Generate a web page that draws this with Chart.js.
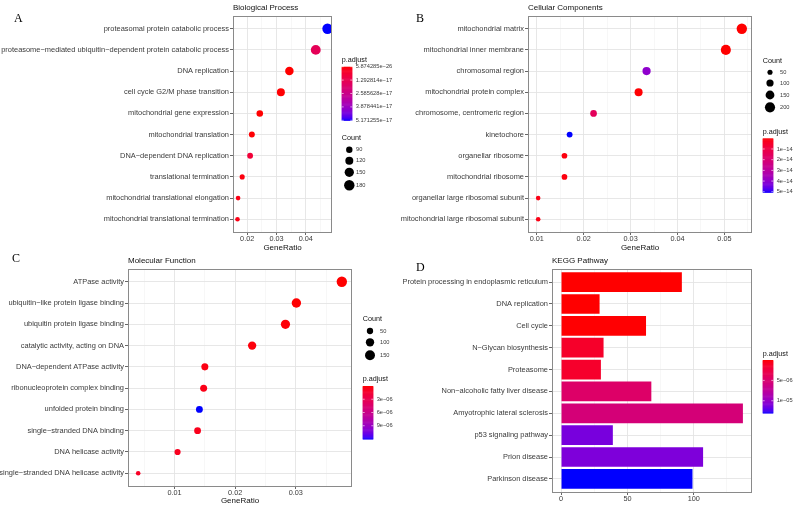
<!DOCTYPE html>
<html>
<head>
<meta charset="utf-8">
<script src="https://cdn.jsdelivr.net/npm/chart.js@4.4.1/dist/chart.umd.min.js"></script>
<style>
  body { margin: 0; background: #fff; width: 797px; height: 506px; position: relative; overflow: hidden; }
  canvas { position: absolute; }
</style>
</head>
<body>
<canvas id="cA" width="400" height="253" style="left:0;top:0"></canvas>
<canvas id="cB" width="397" height="253" style="left:400px;top:0"></canvas>
<canvas id="cC" width="400" height="253" style="left:0;top:253px"></canvas>
<canvas id="cD" width="397" height="253" style="left:400px;top:253px"></canvas>
<script>
// A - Biological Process
const bpTerms = ['proteasomal protein catabolic process', 'proteasome−mediated ubiquitin−dependent protein catabolic process',
  'DNA replication', 'cell cycle G2/M phase transition', 'mitochondrial gene expression', 'mitochondrial translation',
  'DNA−dependent DNA replication', 'translational termination', 'mitochondrial translational elongation',
  'mitochondrial translational termination'];
const bpRatio = [0.0474, 0.0434, 0.0344, 0.0315, 0.0243, 0.0216, 0.0210, 0.0183, 0.0169, 0.0167];
const bpCount = [180, 165, 131, 120, 92, 82, 80, 70, 64, 63];
const bpPadj = [5.171255e-17, 1.45e-17, 5.874285e-26, 2.1e-19, 1.0e-21, 3.5e-19, 7.8e-18, 1.2e-18, 2.0e-18, 2.0e-18];
const bpCountBreaks = [90, 120, 150, 180];
const bpPadjBreaks = [5.874285e-26, 1.292814e-17, 2.585628e-17, 3.878441e-17, 5.171255e-17];
const bpPadjLabels = ['5.874285e−26', '1.292814e−17', '2.585628e−17', '3.878441e−17', '5.171255e−17'];

// B - Cellular Components
const ccTerms = ['mitochondrial matrix', 'mitochondrial inner membrane', 'chromosomal region', 'mitochondrial protein complex',
  'chromosome, centromeric region', 'kinetochore', 'organellar ribosome', 'mitochondrial ribosome',
  'organellar large ribosomal subunit', 'mitochondrial large ribosomal subunit'];
const ccRatio = [0.0537, 0.0503, 0.0334, 0.0317, 0.0221, 0.0170, 0.0159, 0.0159, 0.0103, 0.0103];
const ccCount = [209, 196, 130, 124, 86, 66, 62, 62, 40, 40];
const ccPadj = [1.2e-19, 3.0e-18, 4.0e-14, 2.4e-16, 1.5e-14, 5.05e-14, 1.1e-15, 1.1e-15, 1.9e-15, 1.9e-15];
const ccCountBreaks = [50, 100, 150, 200];
const ccPadjBreaks = [1e-14, 2e-14, 3e-14, 4e-14, 5e-14];
const ccPadjLabels = ['1e−14', '2e−14', '3e−14', '4e−14', '5e−14'];

// C - Molecular Function
const mfTerms = ['ATPase activity', 'ubiquitin−like protein ligase binding', 'ubiquitin protein ligase binding',
  'catalytic activity, acting on DNA', 'DNA−dependent ATPase activity', 'ribonucleoprotein complex binding',
  'unfolded protein binding', 'single−stranded DNA binding', 'DNA helicase activity', 'single−stranded DNA helicase activity'];
const mfRatio = [0.0376, 0.0301, 0.0283, 0.0228, 0.0150, 0.0148, 0.0141, 0.0138, 0.0105, 0.0040];
const mfCount = [165, 132, 125, 100, 66, 65, 62, 61, 46, 18];
const mfPadj = [1.1e-9, 4.2e-8, 1.5e-7, 2.3e-7, 3.9e-7, 5.1e-7, 1.2e-5, 6.5e-7, 8.2e-7, 1.0e-6];
const mfCountBreaks = [50, 100, 150];
const mfPadjBreaks = [3e-6, 6e-6, 9e-6];
const mfPadjLabels = ['3e−06', '6e−06', '9e−06'];

// D - KEGG Pathway
const keggTerms = ['Protein processing in endoplasmic reticulum', 'DNA replication', 'Cell cycle', 'N−Glycan biosynthesis',
  'Proteasome', 'Non−alcoholic fatty liver disease', 'Amyotrophic lateral sclerosis', 'p53 signaling pathway',
  'Prion disease', 'Parkinson disease'];
const keggCount = [91, 29, 64, 32, 30, 68, 137, 39, 107, 99];
const keggPadj = [2.1e-10, 6.0e-9, 3.5e-8, 1.3e-6, 1.4e-6, 4.6e-6, 5.5e-6, 1.12e-5, 1.1e-5, 1.3e-5];
const keggPadjBreaks = [5e-6, 1e-5];
const keggPadjLabels = ['5e−06', '1e−05'];

const SANS = 'Liberation Sans, Arial, sans-serif';
const TXT = '#3a3a3a';

// red -> blue gradient in Lab space like ggplot
function lin(c) { c /= 255; return c <= 0.04045 ? c / 12.92 : Math.pow((c + 0.055) / 1.055, 2.4); }
function toLab(rgb) {
  const r = lin(rgb[0]), g = lin(rgb[1]), b = lin(rgb[2]);
  const f = t => t > 0.008856 ? Math.cbrt(t) : 7.787 * t + 16 / 116;
  const fx = f((0.4124564 * r + 0.3575761 * g + 0.1804375 * b) / 0.95047);
  const fy = f(0.2126729 * r + 0.7151522 * g + 0.0721750 * b);
  const fz = f((0.0193339 * r + 0.1191920 * g + 0.9503041 * b) / 1.08883);
  return [116 * fy - 16, 500 * (fx - fy), 200 * (fy - fz)];
}
function fromLab(L, a, b) {
  const fy = (L + 16) / 116, fx = fy + a / 500, fz = fy - b / 200;
  const inv = t => t * t * t > 0.008856 ? t * t * t : (t - 16 / 116) / 7.787;
  const X = inv(fx) * 0.95047, Y = inv(fy), Z = inv(fz) * 1.08883;
  const rl = 3.2404542 * X - 1.5371385 * Y - 0.4985314 * Z;
  const gl = -0.9692660 * X + 1.8760108 * Y + 0.0415560 * Z;
  const bl = 0.0556434 * X - 0.2040259 * Y + 1.0572252 * Z;
  const g = c => { c = Math.max(0, Math.min(1, c)); c = c <= 0.0031308 ? 12.92 * c : 1.055 * Math.pow(c, 1 / 2.4) - 0.055; return Math.round(c * 255); };
  return 'rgb(' + g(rl) + ',' + g(gl) + ',' + g(bl) + ')';
}
const LOW = toLab([255, 0, 0]), HIGH = toLab([0, 0, 255]);
function mix(t) {
  t = Math.max(0, Math.min(1, t));
  return fromLab(LOW[0] + (HIGH[0] - LOW[0]) * t, LOW[1] + (HIGH[1] - LOW[1]) * t, LOW[2] + (HIGH[2] - LOW[2]) * t);
}

function sizeScale(counts) {
  const lo = Math.min(...counts), hi = Math.max(...counts);
  return c => Math.sqrt(2.3 * 2.3 + (5.2 * 5.2 - 2.3 * 2.3) * Math.max(0, (c - lo) / (hi - lo)));
}

function font(size) { return { family: SANS, size: size }; }

// border, letter, title, axis title, legends
function decor(d) {
  return {
    id: 'decor',
    afterDraw(chart) {
      const c = chart.ctx, a = chart.chartArea;
      c.save();
      c.strokeStyle = '#8a8a8a'; c.lineWidth = 1;
      c.strokeRect(Math.round(a.left) + 0.5, Math.round(a.top) + 0.5, Math.round(a.right - a.left) - 1, Math.round(a.bottom - a.top));
      c.fillStyle = '#000';
      c.font = '12px Liberation Serif, Times New Roman, serif';
      c.textBaseline = 'alphabetic'; c.textAlign = 'left';
      c.fillText(d.letter, d.letterX, d.letterY);
      c.font = '8px ' + SANS; c.textBaseline = 'middle';
      c.fillStyle = '#111';
      c.fillText(d.title, a.left, d.titleY);
      if (d.xTitle) { c.textAlign = 'center'; c.fillText(d.xTitle, (a.left + a.right) / 2, d.xTitleY); }
      c.textAlign = 'left';
      if (d.count) {
        const k = d.count;
        c.font = '7.2px ' + SANS; c.fillStyle = '#111';
        c.fillText('Count', k.x, k.titleY);
        k.breaks.forEach((v, i) => {
          c.beginPath(); c.arc(k.dotX, k.ys[i], d.size(v), 0, Math.PI * 2); c.fillStyle = '#000'; c.fill();
          c.font = '5.7px ' + SANS; c.fillStyle = TXT; c.fillText(String(v), k.labelX, k.ys[i]);
        });
      }
      const p = d.padj;
      c.font = '7.2px ' + SANS; c.fillStyle = '#111';
      c.fillText('p.adjust', p.x, p.titleY);
      const n = 60, h = (p.y1 - p.y0) / n;
      for (let i = 0; i < n; i++) {
        c.fillStyle = mix((i + 0.5) / n);
        c.fillRect(p.x, p.y0 + i * h, 10.6, h + 0.6);
      }
      c.strokeStyle = '#fff'; c.lineWidth = 0.6;
      c.font = '5.7px ' + SANS;
      p.breaks.forEach((v, i) => {
        const y = p.y0 + (v - d.lo) / (d.hi - d.lo) * (p.y1 - p.y0);
        c.beginPath(); c.moveTo(p.x, y); c.lineTo(p.x + 2, y); c.moveTo(p.x + 8.6, y); c.lineTo(p.x + 10.6, y); c.stroke();
        c.fillStyle = TXT; c.fillText(p.labels[i], p.x + 14, y);
      });
      c.restore();
    }
  };
}

function xAxis(min, max, step, isMajor, label, H, bottom) {
  return {
    type: 'linear', min: min, max: max, offset: false,
    afterFit: s => { s.height = H - bottom; },
    afterBuildTicks: s => {
      const t = [];
      for (let v = Math.ceil(min / step - 1e-9) * step; v <= max + 1e-12; v += step) t.push({ value: +v.toFixed(6) });
      s.ticks = t;
    },
    ticks: { autoSkip: false, maxRotation: 0, padding: 0, font: font(7.3), color: TXT,
      callback: v => isMajor(v) ? label(v) : '' },
    grid: { offset: false, color: c => c.tick && isMajor(c.tick.value) ? '#e4e4e4' : '#f1f1f1',
      lineWidth: c => c.tick && isMajor(c.tick.value) ? 0.9 : 0.6,
      tickLength: 3, tickColor: c => c.tick && isMajor(c.tick.value) ? '#555' : 'rgba(0,0,0,0)' },
    border: { display: false }
  };
}

function yAxis(terms, left) {
  return {
    type: 'linear', min: -0.6, max: terms.length - 0.4, reverse: true, offset: false,
    afterFit: s => { s.width = left; },
    afterBuildTicks: s => { s.ticks = terms.map((t, i) => ({ value: i })); },
    ticks: { autoSkip: false, padding: 1, font: font(7.45), color: TXT, callback: v => terms[v] },
    grid: { offset: false, color: '#e4e4e4', lineWidth: 0.9, tickLength: 3, tickColor: '#555' },
    border: { display: false }
  };
}

const ratioMajor = v => Math.abs(Math.round(v * 100) - v * 100) < 1e-6;
const ratioLabel = v => (Math.round(v * 100) / 100).toFixed(2);

function dotChart(id, terms, ratio, count, padj, box, deco) {
  const el = document.getElementById(id);
  const W = el.width, H = el.height;
  const size = sizeScale(count);
  const lo = Math.min(...padj), hi = Math.max(...padj);
  const rlo = Math.min(...ratio), rhi = Math.max(...ratio), pad = (rhi - rlo) * 0.05;
  deco.size = size; deco.lo = lo; deco.hi = hi;
  return new Chart(el, {
    type: 'bubble',
    data: { datasets: [{
      data: terms.map((t, i) => ({ x: ratio[i], y: i, r: size(count[i]) })),
      backgroundColor: padj.map(p => mix((p - lo) / (hi - lo))),
      borderWidth: 0, hoverRadius: 0
    }] },
    options: {
      responsive: false, animation: false, events: [],
      layout: { padding: { left: 0, top: box.top, right: W - box.right, bottom: 0 } },
      plugins: { legend: { display: false }, tooltip: { enabled: false } },
      scales: {
        x: xAxis(rlo - pad, rhi + pad, 0.005, ratioMajor, ratioLabel, H, box.bottom),
        y: yAxis(terms, box.left)
      }
    },
    plugins: [decor(deco)]
  });
}

dotChart('cA', bpTerms, bpRatio, bpCount, bpPadj, { left: 233, right: 332, top: 16, bottom: 232 }, {
  letter: 'A', letterX: 14, letterY: 22, title: 'Biological Process', titleY: 7.5, xTitle: 'GeneRatio', xTitleY: 247.5,
  padj: { x: 341.7, titleY: 60.5, y0: 66.7, y1: 120.3, breaks: bpPadjBreaks, labels: bpPadjLabels },
  count: { x: 341.7, titleY: 137.7, dotX: 349.3, labelX: 356, ys: [149.7, 160.7, 172.3, 185.3], breaks: bpCountBreaks }
});

dotChart('cB', ccTerms, ccRatio, ccCount, ccPadj, { left: 128, right: 352, top: 16, bottom: 232 }, {
  letter: 'B', letterX: 16, letterY: 22, title: 'Cellular Components', titleY: 7.5, xTitle: 'GeneRatio', xTitleY: 247.5,
  count: { x: 362.7, titleY: 61, dotX: 370, labelX: 380, ys: [72.3, 83, 95, 107.3], breaks: ccCountBreaks },
  padj: { x: 362.7, titleY: 131.7, y0: 138.3, y1: 192.3, breaks: ccPadjBreaks, labels: ccPadjLabels }
});

dotChart('cC', mfTerms, mfRatio, mfCount, mfPadj, { left: 128, right: 352, top: 16, bottom: 233 }, {
  letter: 'C', letterX: 12, letterY: 8.5, title: 'Molecular Function', titleY: 8, xTitle: 'GeneRatio', xTitleY: 248,
  count: { x: 362.7, titleY: 66, dotX: 370, labelX: 380, ys: [78, 89.3, 102.3], breaks: mfCountBreaks },
  padj: { x: 362.7, titleY: 126.3, y0: 133, y1: 186, breaks: mfPadjBreaks, labels: mfPadjLabels }
});

// D - bar chart
(function () {
  const el = document.getElementById('cD');
  const W = el.width, H = el.height;
  const box = { left: 152, right: 352, top: 16, bottom: 239 };
  const lo = Math.min(...keggPadj), hi = Math.max(...keggPadj);
  const cmax = Math.max(...keggCount), pad = cmax * 0.05;
  const major = v => Math.abs(v % 50) < 1e-6;
  new Chart(el, {
    type: 'bar',
    data: { datasets: [{
      data: keggTerms.map((t, i) => ({ x: keggCount[i], y: i })),
      backgroundColor: keggPadj.map(p => mix((p - lo) / (hi - lo))),
      borderWidth: 0, barPercentage: 0.9, categoryPercentage: 1
    }] },
    options: {
      indexAxis: 'y', responsive: false, animation: false, events: [],
      layout: { padding: { left: 0, top: box.top, right: W - box.right, bottom: 0 } },
      plugins: { legend: { display: false }, tooltip: { enabled: false } },
      scales: {
        x: xAxis(-pad, cmax + pad, 25, major, v => String(Math.round(v)), H, box.bottom),
        y: yAxis(keggTerms, box.left)
      }
    },
    plugins: [decor({
      letter: 'D', letterX: 16, letterY: 17.7, title: 'KEGG Pathway', titleY: 8, lo: lo, hi: hi,
      padj: { x: 362.7, titleY: 100.7, y0: 107, y1: 160, breaks: keggPadjBreaks, labels: keggPadjLabels }
    })]
  });
})();
</script>
</body>
</html>
